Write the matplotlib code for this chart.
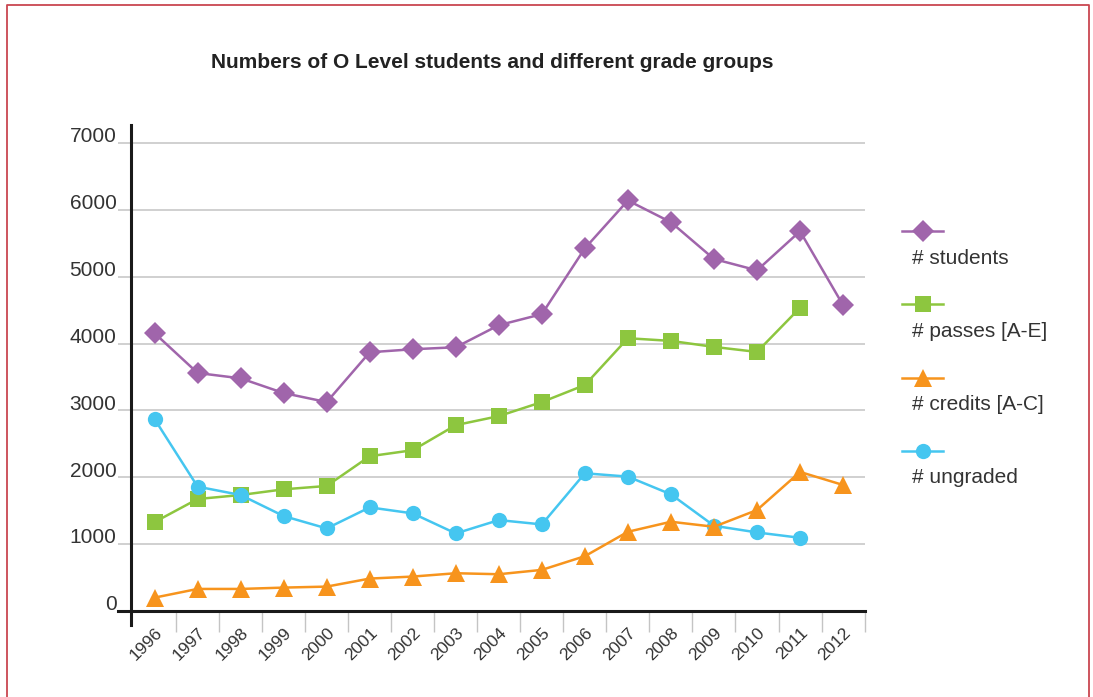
import numpy as np
import matplotlib
matplotlib.use('Agg')
import matplotlib.pyplot as plt
import matplotlib.transforms as mtransforms
from matplotlib.lines import Line2D

plt.rcParams['font.family'] = ['Liberation Sans', 'DejaVu Sans']

years = ['1996', '1997', '1998', '1999', '2000', '2001', '2002', '2003', '2004',
         '2005', '2006', '2007', '2008', '2009', '2010', '2011', '2012']
students = [4155, 3560, 3480, 3260, 3125, 3870, 3915, 3945, 4275, 4440, 5425,
            6140, 5815, 5265, 5095, 5680, 4575]
passes = [1330, 1675, 1735, 1820, 1870, 2315, 2405, 2780, 2915, 3125, 3380,
          4080, 4040, 3950, 3875, 4535, np.nan]
credits = [200, 330, 330, 350, 365, 485, 515, 565, 550, 615, 820, 1185, 1335,
           1260, 1510, 2080, 1885]
ungraded = [2870, 1860, 1735, 1420, 1235, 1550, 1460, 1160, 1360, 1295, 2060,
            2010, 1745, 1275, 1175, 1095, np.nan]

# label, values, colour, marker, size, drawing order
series = [
    ('# students', students, '#a065ab', 'D', 11, 3),
    ('# passes [A-E]', passes, '#8dc63f', 's', 11, 4),
    ('# credits [A-C]', credits, '#f7941d', '^', 13, 6),
    ('# ungraded', ungraded, '#45c6f0', 'o', 11, 5),
]
yticks = [0, 1000, 2000, 3000, 4000, 5000, 6000, 7000]
text_color = '#333333'

W, H = 1093, 697
fig = plt.figure(figsize=(W / 100, H / 100), dpi=100)
ax = fig.add_axes([118 / W, (H - 611) / H, (865 - 118) / W, (611 - 125) / H])

x = np.arange(len(years))
for label, vals, color, marker, ms, z in series:
    ax.plot(x, vals, color=color, lw=1.8, marker=marker, ms=ms,
            markeredgewidth=0, clip_on=False, zorder=z)

ax.set_xlim(-0.85, 16.51)
ax.set_ylim(0, 7000 * 486 / 468)

# grid and axis lines
ax.set_yticks(yticks)
ax.yaxis.grid(True, color='#c4c4c4', lw=1.1)
ax.set_axisbelow(True)
ax.tick_params(axis='y', length=0, labelleft=False)
for s in ['top', 'right', 'left']:
    ax.spines[s].set_visible(False)
ax.spines['bottom'].set_color('#1a1a1a')
ax.spines['bottom'].set_linewidth(2.2)
ax.axvline(-0.55, ymin=-0.029, ymax=1, color='#1a1a1a', lw=2.2, clip_on=False)

# y labels sitting on the gridlines
blend = mtransforms.blended_transform_factory(ax.transAxes, ax.transData)
for v in yticks:
    ax.text(-0.002, v + 10, str(v), transform=blend, ha='right', va='baseline',
            fontsize=15, color=text_color)

# x ticks: labels at centres, grey separators between categories
ax.set_xticks(x)
ax.set_xticklabels(years)
ax.set_xticks(np.arange(0.5, len(years)), minor=True)
ax.tick_params(axis='x', which='major', length=0, pad=10, labelsize=12.5,
               labelcolor=text_color)
ax.tick_params(axis='x', which='minor', length=15, width=1, color='#c4c4c4')
for lab in ax.get_xticklabels():
    lab.set_rotation(45)
    lab.set_ha('right')
    lab.set_va('top')
    lab.set_rotation_mode('anchor')

fig.text(492 / W, (H - 62) / H, 'Numbers of O Level students and different grade groups',
         ha='center', va='center', fontsize=15, fontweight='bold', color='#222222')

# legend: marker line with label underneath
for i, (label, vals, color, marker, ms, z) in enumerate(series):
    ly = 231 + i * 73.3
    fig.add_artist(Line2D([902 / W, 943 / W], [(H - ly) / H] * 2, color=color, lw=1.8,
                          transform=fig.transFigure))
    fig.add_artist(Line2D([922.5 / W], [(H - ly) / H], color=color, marker=marker, ms=ms,
                          markeredgewidth=0, transform=fig.transFigure))
    fig.text(912 / W, (H - ly - 27) / H, label, ha='left', va='center',
             fontsize=15, color=text_color)

# red frame (open at bottom)
fc = '#c94650'
fig.add_artist(Line2D([7 / W, 7 / W, 1089 / W, 1089 / W],
                      [0, (H - 5) / H, (H - 5) / H, 0],
                      color=fc, lw=1.3, transform=fig.transFigure))

fig.savefig('out.png', dpi=100)
